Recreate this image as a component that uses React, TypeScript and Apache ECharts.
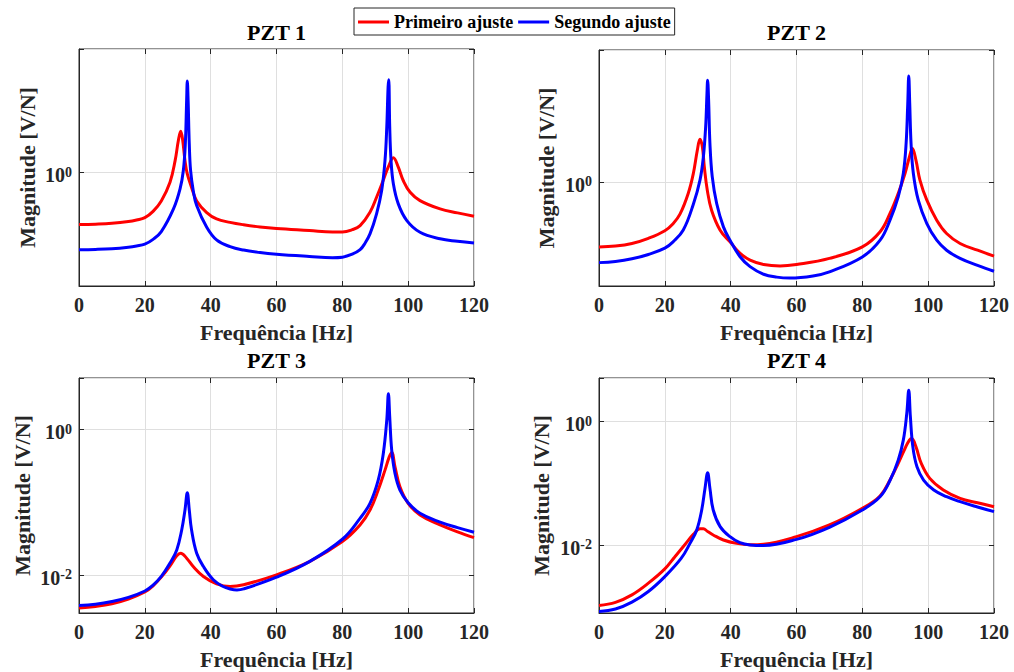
import React, { useEffect, useRef } from 'react';
import * as echarts from 'echarts';

const panelTitles = ['PZT 1', 'PZT 2', 'PZT 3', 'PZT 4'];
const seriesNames = ['Primeiro ajuste', 'Segundo ajuste'];
const xLabel = 'Frequência [Hz]';
const yLabel = 'Magnitude [V/N]';
const xMin = 0;
const xMax = 120;
const xStep = 20;

// y-axis ranges (log)
const yMins = [0.1413, 0.1778, 0.00299, 0.000794];
const yMaxs = [8.32, 8.91, 5.05, 4.99];
const yLogBases = [10, 10, 100, 100];

// [frequency Hz, magnitude V/N]
const pzt1Primeiro: [number, number][] = [
  [0, 0.406], [5, 0.409], [10, 0.415], [15, 0.428], [17.5, 0.44], [20, 0.458], [22.5, 0.51], [25, 0.61],
  [27.65, 0.842], [29.2, 1.22], [30.2, 1.73], [30.9, 2.02], [31.5, 1.73], [32.2, 1.22], [32.9, 0.97],
  [34.2, 0.77], [35.75, 0.61], [38.8, 0.5], [41.8, 0.448], [45.9, 0.422], [50, 0.405], [55, 0.39],
  [60, 0.38], [70, 0.367], [77, 0.358], [80, 0.358], [83, 0.372], [85.4, 0.399], [88.4, 0.502],
  [90.4, 0.65], [92.4, 0.867], [94.0, 1.1], [95.5, 1.28], [97.0, 1.09], [98.5, 0.867], [100.6, 0.708],
  [103.6, 0.614], [109.7, 0.532], [115, 0.497], [120, 0.469],
];
const pzt1Segundo: [number, number][] = [
  [0, 0.264], [5, 0.265], [10, 0.268], [15, 0.275], [17.5, 0.281], [20, 0.29], [22.5, 0.315],
  [25, 0.36], [28.7, 0.532], [30.7, 0.751], [31.7, 1.03], [32.3, 1.63], [32.7, 3.44], [32.9, 4.8],
  [33.15, 3.44], [33.5, 1.63], [33.9, 1.03], [34.7, 0.73], [35.75, 0.564], [38.8, 0.388], [41.8, 0.312],
  [45.9, 0.278], [50, 0.262], [55, 0.251], [60, 0.244], [70, 0.235], [77, 0.23], [80, 0.232],
  [83, 0.244], [85.4, 0.264], [86.9, 0.295], [88.4, 0.346], [90.4, 0.489], [91.95, 0.73], [92.96, 1.22],
  [93.5, 2.17], [93.9, 4.32], [94.1, 4.91], [94.4, 2.17], [94.8, 1.22], [95.5, 0.82], [97.0, 0.58],
  [99.6, 0.435], [103.6, 0.356], [109.7, 0.318], [115, 0.305], [120, 0.296],
];
const pzt2Primeiro: [number, number][] = [
  [0, 0.34], [5, 0.345], [10, 0.36], [15, 0.392], [20, 0.445], [22.5, 0.5], [24.6, 0.585], [27.1, 0.825],
  [28.66, 1.15], [29.87, 1.69], [30.68, 2.03], [31.4, 1.79], [32.0, 1.28], [32.9, 0.871], [34.2, 0.625],
  [36.8, 0.449], [39.8, 0.37], [42.8, 0.307], [45.9, 0.273], [50, 0.254], [55, 0.248], [60, 0.254],
  [70, 0.281], [80, 0.34], [85.4, 0.437], [88.4, 0.592], [90.9, 0.825], [92.96, 1.15], [94.3, 1.51],
  [95.2, 1.74], [96.3, 1.43], [97.5, 1.03], [99.6, 0.738], [102.6, 0.53], [105.6, 0.425], [109.7, 0.36],
  [115, 0.322], [120, 0.292],
];
const pzt2Segundo: [number, number][] = [
  [0, 0.262], [5, 0.267], [10, 0.279], [15, 0.3], [20, 0.333], [22.5, 0.37], [25.6, 0.45], [28.66, 0.69],
  [30.68, 1.03], [31.7, 1.51], [32.4, 2.49], [32.8, 4.33], [33.0, 5.4], [33.3, 3.88], [33.7, 1.89],
  [34.4, 1.09], [35.75, 0.698], [37.8, 0.474], [39.8, 0.38], [42.8, 0.29], [45.9, 0.245], [50, 0.216],
  [54, 0.206], [58, 0.203], [65, 0.21], [70, 0.225], [80, 0.288], [85.4, 0.38], [88.4, 0.53],
  [90.9, 0.78], [92.45, 1.15], [93.3, 1.89], [93.8, 3.67], [94.1, 5.78], [94.4, 3.67], [94.8, 1.89],
  [95.5, 1.15], [97.0, 0.738], [99.6, 0.501], [102.6, 0.38], [105.6, 0.322], [109.7, 0.281],
  [115, 0.25], [120, 0.227],
];
const pzt3Primeiro: [number, number][] = [
  [0, 0.0035], [5, 0.00368], [10, 0.00401], [15, 0.00465], [20, 0.0058], [22.5, 0.00706], [25, 0.0093],
  [27.5, 0.013], [29.7, 0.0182], [30.9, 0.0198], [32.7, 0.0169], [34.7, 0.013], [37.8, 0.0095],
  [41.8, 0.00753], [45.9, 0.0069], [50, 0.0073], [60, 0.01], [70, 0.0152], [80, 0.0286], [85.37, 0.0484],
  [88.4, 0.0777], [90.9, 0.146], [92.96, 0.274], [94.2, 0.41], [95.0, 0.48], [96.0, 0.305], [97.5, 0.162],
  [100, 0.096], [103.6, 0.0664], [109.7, 0.0484], [115, 0.039], [120, 0.0324],
];
const pzt3Segundo: [number, number][] = [
  [0, 0.0038], [5, 0.00395], [10, 0.0043], [15, 0.0049], [20, 0.006], [22.5, 0.0072], [25, 0.0095],
  [27.65, 0.0145], [29.7, 0.022], [31.2, 0.0413], [32.2, 0.0777], [32.9, 0.134], [33.5, 0.0777],
  [34.2, 0.0413], [35.75, 0.0198], [37.8, 0.013], [40.8, 0.00855], [43.8, 0.0069], [45.9, 0.0064],
  [48, 0.0062], [50, 0.0064], [60, 0.0093], [70, 0.0152], [80, 0.0308], [85.37, 0.0597], [88.4, 0.096],
  [90.9, 0.2], [92.45, 0.465], [93.5, 1.33], [94.0, 3.08], [94.4, 1.47], [95.0, 0.515], [96.0, 0.247],
  [97.5, 0.146], [100, 0.098], [103.6, 0.07], [109.7, 0.053], [115, 0.0445], [120, 0.0385],
];
const pzt4Primeiro: [number, number][] = [
  [0, 0.00105], [5, 0.00118], [10, 0.00156], [15, 0.00241], [20, 0.0041], [23, 0.0064], [26, 0.01],
  [28.66, 0.0148], [30.68, 0.0182], [31.7, 0.0182], [33, 0.0165], [34.7, 0.0145], [37.8, 0.012],
  [41.8, 0.0106], [45.9, 0.0101], [50, 0.0103], [60, 0.0136], [70, 0.021], [80, 0.039], [85.37, 0.0615],
  [88.4, 0.112], [90.9, 0.208], [92.96, 0.362], [94.3, 0.494], [95.0, 0.525], [96.3, 0.385],
  [97.9, 0.208], [100.5, 0.119], [104.6, 0.0771], [109.7, 0.0566], [115, 0.048], [120, 0.0415],
];
const pzt4Segundo: [number, number][] = [
  [0, 0.00084], [5, 0.00092], [10, 0.00119], [15, 0.00177], [20, 0.00308], [25, 0.0061],
  [27.65, 0.0106], [29.7, 0.0175], [31.2, 0.0367], [32.2, 0.082], [33.0, 0.147], [33.7, 0.082],
  [34.7, 0.0367], [36.8, 0.0198], [39.8, 0.0136], [42.8, 0.0109], [45.9, 0.01], [50, 0.0098],
  [60, 0.0123], [70, 0.0193], [80, 0.0367], [85.37, 0.06], [88.4, 0.11], [90.9, 0.235], [92.45, 0.494],
  [93.5, 1.33], [94.1, 3.16], [94.6, 1.17], [95.35, 0.385], [96.6, 0.183], [98.6, 0.112],
  [101.7, 0.0771], [105.6, 0.0602], [109.7, 0.05], [115, 0.041], [120, 0.0345],
];

const primeiroData = [pzt1Primeiro, pzt2Primeiro, pzt3Primeiro, pzt4Primeiro];
const segundoData = [pzt1Segundo, pzt2Segundo, pzt3Segundo, pzt4Segundo];

// layout
const gridRects = [
  [79, 49, 395, 237],
  [599, 50, 395, 236],
  [79, 378, 395, 235],
  [599, 378, 395, 235],
];
const titleYs = [32.5, 32.5, 360, 360];
const yNameGaps = [41, 41.5, 46, 47];
const xNameGap = 35;

const FONT = '"Liberation Serif", "Times New Roman", serif';
const AXIS_COLOR = '#262626';
const GRID_COLOR = '#dfdfdf';
const RED = '#ff0000';
const BLUE = '#0000ff';

const yFormatter = (v: number) => {
  const l = Math.log10(v);
  const e = Math.round(l);
  if (Math.abs(l - e) > 1e-6) return '';
  return `{b|10}{s|${e}}`;
};

export default function App() {
  const ref = useRef<HTMLDivElement>(null);
  useEffect(() => {
    if (!ref.current) return;
    const chart = echarts.init(ref.current, null, { renderer: 'svg' });

    const grid = gridRects.map(([left, top, width, height]) => ({
      left, top, width, height,
      show: true,
      borderColor: AXIS_COLOR,
      borderWidth: 1,
      backgroundColor: 'transparent',
      containLabel: false,
    }));

    const xAxis: any[] = [];
    const yAxis: any[] = [];
    gridRects.forEach((_, i) => {
      xAxis.push({
        type: 'value', gridIndex: i, min: xMin, max: xMax, interval: xStep, position: 'bottom',
        name: xLabel, nameLocation: 'middle', nameGap: xNameGap,
        nameTextStyle: { fontFamily: FONT, fontWeight: 'bold', fontSize: 22, color: AXIS_COLOR },
        axisLine: { show: true, onZero: false, lineStyle: { color: AXIS_COLOR, width: 1 } },
        axisTick: { show: true, inside: true, length: 5, lineStyle: { color: AXIS_COLOR } },
        axisLabel: { show: true, margin: 9, fontFamily: FONT, fontWeight: 'bold', fontSize: 20, color: AXIS_COLOR, showMinLabel: true, showMaxLabel: true },
        splitLine: { show: true, lineStyle: { color: GRID_COLOR, width: 1 } },
      });
      xAxis.push({
        type: 'value', gridIndex: i, min: xMin, max: xMax, interval: xStep, position: 'top',
        axisLine: { show: false, onZero: false },
        axisTick: { show: true, inside: true, length: 5, lineStyle: { color: AXIS_COLOR } },
        axisLabel: { show: false },
        splitLine: { show: false },
      });
      yAxis.push({
        type: 'log', logBase: yLogBases[i], gridIndex: i, min: yMins[i], max: yMaxs[i], position: 'left',
        name: yLabel, nameLocation: 'middle', nameGap: yNameGaps[i], nameRotate: 90,
        nameTextStyle: { fontFamily: FONT, fontWeight: 'bold', fontSize: 22, color: AXIS_COLOR },
        axisLine: { show: true, onZero: false, lineStyle: { color: AXIS_COLOR, width: 1 } },
        axisTick: { show: true, inside: true, length: 5, lineStyle: { color: AXIS_COLOR } },
        axisLabel: {
          show: true, margin: 7, formatter: yFormatter, padding: [6, 0, 0, 0],
          rich: {
            b: { fontFamily: FONT, fontWeight: 'bold', fontSize: 20, color: AXIS_COLOR, lineHeight: 20, padding: [4, 0, 0, 0], verticalAlign: 'bottom' },
            s: { fontFamily: FONT, fontWeight: 'bold', fontSize: 14, color: AXIS_COLOR, lineHeight: 14, verticalAlign: 'top' },
          },
        },
        splitLine: { show: true, lineStyle: { color: GRID_COLOR, width: 1 } },
      });
      yAxis.push({
        type: 'log', logBase: yLogBases[i], gridIndex: i, min: yMins[i], max: yMaxs[i], position: 'right',
        axisLine: { show: false, onZero: false },
        axisTick: { show: true, inside: true, length: 5, lineStyle: { color: AXIS_COLOR } },
        axisLabel: { show: false },
        splitLine: { show: false },
      });
    });

    const series: any[] = [];
    gridRects.forEach((_, i) => {
      series.push({
        name: seriesNames[0], type: 'line', xAxisIndex: 2 * i, yAxisIndex: 2 * i,
        data: primeiroData[i], showSymbol: false, smooth: 0.4, clip: true, z: 3,
        color: RED, lineStyle: { color: RED, width: 3 },
      });
      series.push({
        name: seriesNames[1], type: 'line', xAxisIndex: 2 * i, yAxisIndex: 2 * i,
        data: segundoData[i], showSymbol: false, smooth: 0.4, clip: true, z: 4,
        color: BLUE, lineStyle: { color: BLUE, width: 3 },
      });
    });

    const graphic = gridRects.map(([left, , width], i) => ({
      type: 'text',
      x: left + width / 2,
      y: titleYs[i],
      style: {
        text: panelTitles[i],
        font: `bold 22px ${FONT}`,
        fill: '#000',
        align: 'center',
        verticalAlign: 'middle',
        textAlign: 'center',
        textVerticalAlign: 'middle',
      },
    }));

    chart.setOption({
      animation: false,
      backgroundColor: '#ffffff',
      grid,
      xAxis,
      yAxis,
      series,
      graphic,
      legend: {
        left: 354, top: 8,
        orient: 'horizontal',
        padding: [5, 4, 4, 4],
        itemGap: 5,
        itemWidth: 31,
        itemHeight: 3,
        icon: 'rect',
        borderColor: AXIS_COLOR,
        borderWidth: 1,
        backgroundColor: '#ffffff',
        textStyle: { fontFamily: FONT, fontWeight: 'bold', fontSize: 18, color: '#000' },
        data: [
          { name: seriesNames[0], itemStyle: { color: RED } },
          { name: seriesNames[1], itemStyle: { color: BLUE } },
        ],
      },
    });
    return () => chart.dispose();
  }, []);

  return <div ref={ref} style={{ position: 'absolute', left: 0, top: 0, width: 1014, height: 672 }} />;
}
